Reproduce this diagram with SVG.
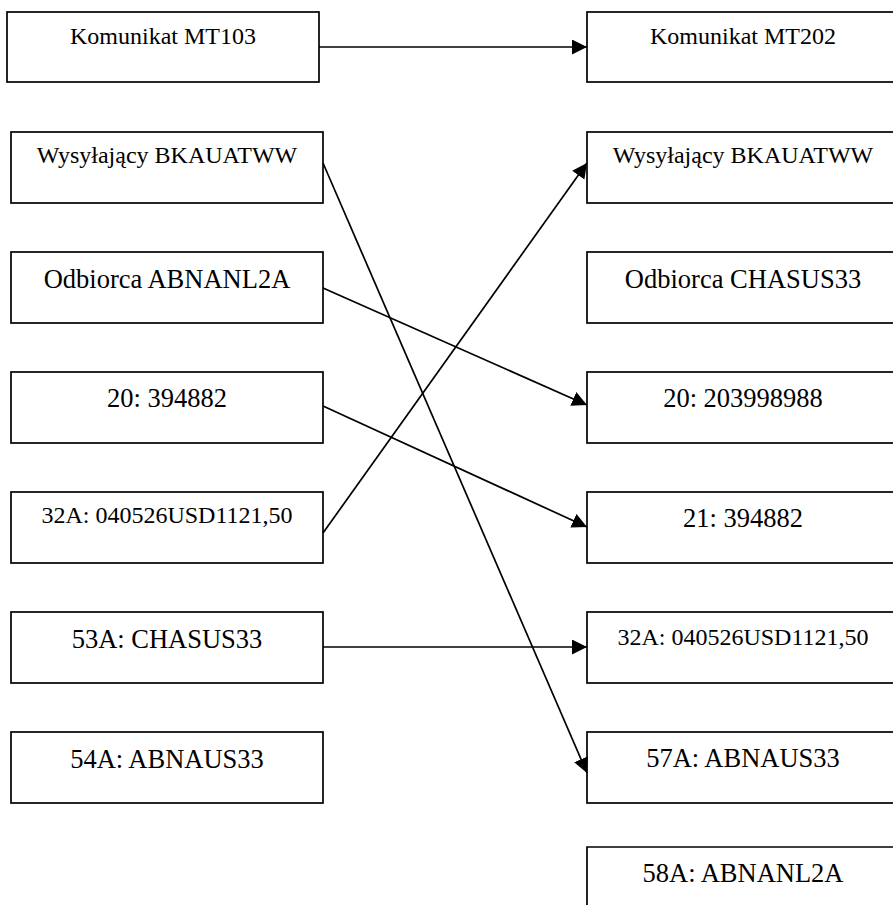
<svg xmlns="http://www.w3.org/2000/svg" width="893" height="915" viewBox="0 0 893 915">
<style>
.b{fill:#fff;stroke:#000;stroke-width:1.7}
.t{font-family:"Liberation Serif","Times New Roman",serif;fill:#000;text-anchor:middle}
.s{font-size:24px}
.l{font-size:26.5px}
.c{stroke:#000;stroke-width:1.7;fill:none;marker-end:url(#ah)}
</style>
<defs>
<marker id="ah" markerUnits="userSpaceOnUse" markerWidth="16" markerHeight="16" refX="15" refY="7.5" orient="auto">
<path d="M0,0 L15,7.5 L0,15 z" fill="#000"/>
</marker>
</defs>
<rect width="893" height="915" fill="#fff"/>
<g id="mt103"><rect class="b" x="7" y="12" width="312" height="70"/><text class="t s" x="163" y="44">Komunikat MT103</text></g>
<g id="mt202"><rect class="b" x="587" y="12" width="312" height="70"/><text class="t s" x="743" y="44">Komunikat MT202</text></g>
<g id="l-wys"><rect class="b" x="11" y="132" width="312" height="71"/><text class="t s" x="167" y="163">Wysyłający BKAUATWW</text></g>
<g id="l-odb"><rect class="b" x="11" y="252" width="312" height="71"/><text class="t l" x="167" y="288">Odbiorca ABNANL2A</text></g>
<g id="l-20"><rect class="b" x="11" y="372" width="312" height="71"/><text class="t l" x="167" y="407">20: 394882</text></g>
<g id="l-32a"><rect class="b" x="11" y="492" width="312" height="71"/><text class="t s" x="167" y="523">32A: 040526USD1121,50</text></g>
<g id="l-53a"><rect class="b" x="11" y="612" width="312" height="71"/><text class="t l" x="167" y="648">53A: CHASUS33</text></g>
<g id="l-54a"><rect class="b" x="11" y="732" width="312" height="71"/><text class="t l" x="167" y="768">54A: ABNAUS33</text></g>
<g id="r-wys"><rect class="b" x="587" y="132" width="312" height="71"/><text class="t s" x="743" y="163">Wysyłający BKAUATWW</text></g>
<g id="r-odb"><rect class="b" x="587" y="252" width="312" height="71"/><text class="t l" x="743" y="288">Odbiorca CHASUS33</text></g>
<g id="r-20"><rect class="b" x="587" y="372" width="312" height="71"/><text class="t l" x="743" y="407">20: 203998988</text></g>
<g id="r-21"><rect class="b" x="587" y="492" width="312" height="71"/><text class="t l" x="743" y="527">21: 394882</text></g>
<g id="r-32a"><rect class="b" x="587" y="612" width="312" height="71"/><text class="t s" x="743" y="645">32A: 040526USD1121,50</text></g>
<g id="r-57a"><rect class="b" x="587" y="732" width="312" height="71"/><text class="t l" x="743" y="767">57A: ABNAUS33</text></g>
<g id="r-58a"><path d="M587,905 V847 H899" fill="none" stroke="#000" stroke-width="1.7"/><text class="t l" x="743" y="882">58A: ABNANL2A</text></g>
<g id="connectors">
<line class="c" x1="319" y1="47" x2="587" y2="47"/>
<line class="c" x1="323" y1="163" x2="587" y2="773"/>
<line class="c" x1="323" y1="288" x2="587" y2="405"/>
<line class="c" x1="323" y1="406" x2="587" y2="527"/>
<line class="c" x1="323" y1="533" x2="587" y2="163"/>
<line class="c" x1="323" y1="647" x2="587" y2="647"/>
</g>
</svg>
